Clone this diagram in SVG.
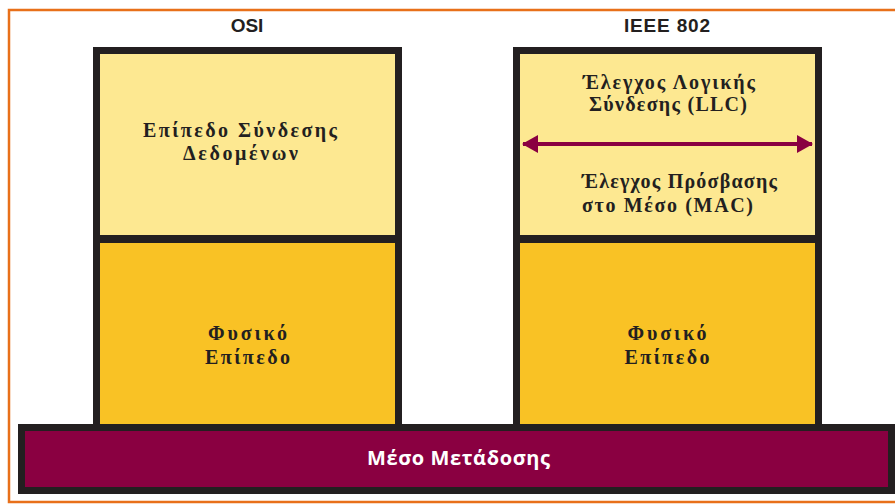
<svg xmlns="http://www.w3.org/2000/svg" width="895" height="504" viewBox="0 0 895 504">
  <style>
    .frame { fill: none; stroke: #e8701a; stroke-width: 2.5; }
    .edge { fill: #231f20; }
    .llc { fill: #fde891; }
    .phy { fill: #f9c225; }
    .title { font-family: "Liberation Sans", Arial, sans-serif; font-weight: bold; font-size: 19px; fill: #231f20; text-anchor: middle; }
    .lbl { font-family: "Liberation Serif", "Times New Roman", serif; font-weight: bold; font-size: 20px; fill: #231f20; text-anchor: middle; }
    .medium { font-family: "Open Sans", "Noto Sans", sans-serif; font-weight: bold; font-size: 20px; fill: #ffffff; text-anchor: middle; }
    .link { stroke: #8a0041; stroke-width: 4; fill: none; }
  </style>
  <defs>
    <marker id="head" viewBox="0 0 16 18" refX="15" refY="9" markerWidth="16" markerHeight="18" markerUnits="userSpaceOnUse" orient="auto-start-reverse">
      <path d="M0,0 L16,9 L0,18 Z" fill="#8a0041"/>
    </marker>
  </defs>

  <rect width="895" height="504" fill="#ffffff"/>

  <!-- outer frame, open on the right -->
  <path class="frame" d="M895,10 H9 V502 H895"/>

  <!-- column headings -->
  <text class="title" x="247" y="32">OSI</text>
  <text class="title" x="667" y="32" textLength="86" lengthAdjust="spacing">IEEE 802</text>

  <!-- OSI stack -->
  <g id="osi-stack">
    <rect class="edge" x="93" y="47" width="309" height="380"/>
    <g id="osi-datalink">
      <rect class="llc" x="100" y="54" width="295" height="181"/>
      <text class="lbl" x="240" y="137" textLength="194" lengthAdjust="spacing">Επίπεδο Σύνδεσης</text>
      <text class="lbl" x="240.5" y="160" textLength="115" lengthAdjust="spacing">Δεδομένων</text>
    </g>
    <g id="osi-physical">
      <rect class="phy" x="100" y="243" width="295" height="181"/>
      <text class="lbl" x="247.5" y="340" textLength="79" lengthAdjust="spacing">Φυσικό</text>
      <text class="lbl" x="247.5" y="364" textLength="85" lengthAdjust="spacing">Επίπεδο</text>
    </g>
  </g>

  <!-- IEEE 802 stack -->
  <g id="ieee-stack">
    <rect class="edge" x="513" y="47" width="309" height="380"/>
    <g id="ieee-datalink">
      <rect class="llc" x="520" y="54" width="295" height="181"/>
      <text class="lbl" x="669" y="89" textLength="172" lengthAdjust="spacing">Έλεγχος Λογικής</text>
      <text class="lbl" x="668" y="111" textLength="158" lengthAdjust="spacing">Σύνδεσης (LLC)</text>
      <text class="lbl" x="679.5" y="188" textLength="195" lengthAdjust="spacing">Έλεγχος Πρόσβασης</text>
      <text class="lbl" x="667.5" y="212" textLength="171" lengthAdjust="spacing">στο Μέσο (MAC)</text>
    </g>
    <g id="ieee-physical">
      <rect class="phy" x="520" y="243" width="295" height="181"/>
      <text class="lbl" x="667" y="340" textLength="79" lengthAdjust="spacing">Φυσικό</text>
      <text class="lbl" x="667" y="364" textLength="85" lengthAdjust="spacing">Επίπεδο</text>
    </g>
  </g>

  <!-- transmission medium -->
  <g id="medium">
    <rect x="21.5" y="427.5" width="870" height="63" fill="#8a0041" stroke="#231f20" stroke-width="7"/>
    <text class="medium" x="458.5" y="465" textLength="183" lengthAdjust="spacing">Μέσο Μετάδοσης</text>
  </g>

  <!-- LLC / MAC boundary -->
  <g id="connectors">
    <line class="link" x1="523" y1="144" x2="812" y2="144" marker-start="url(#head)" marker-end="url(#head)"/>
  </g>
</svg>
